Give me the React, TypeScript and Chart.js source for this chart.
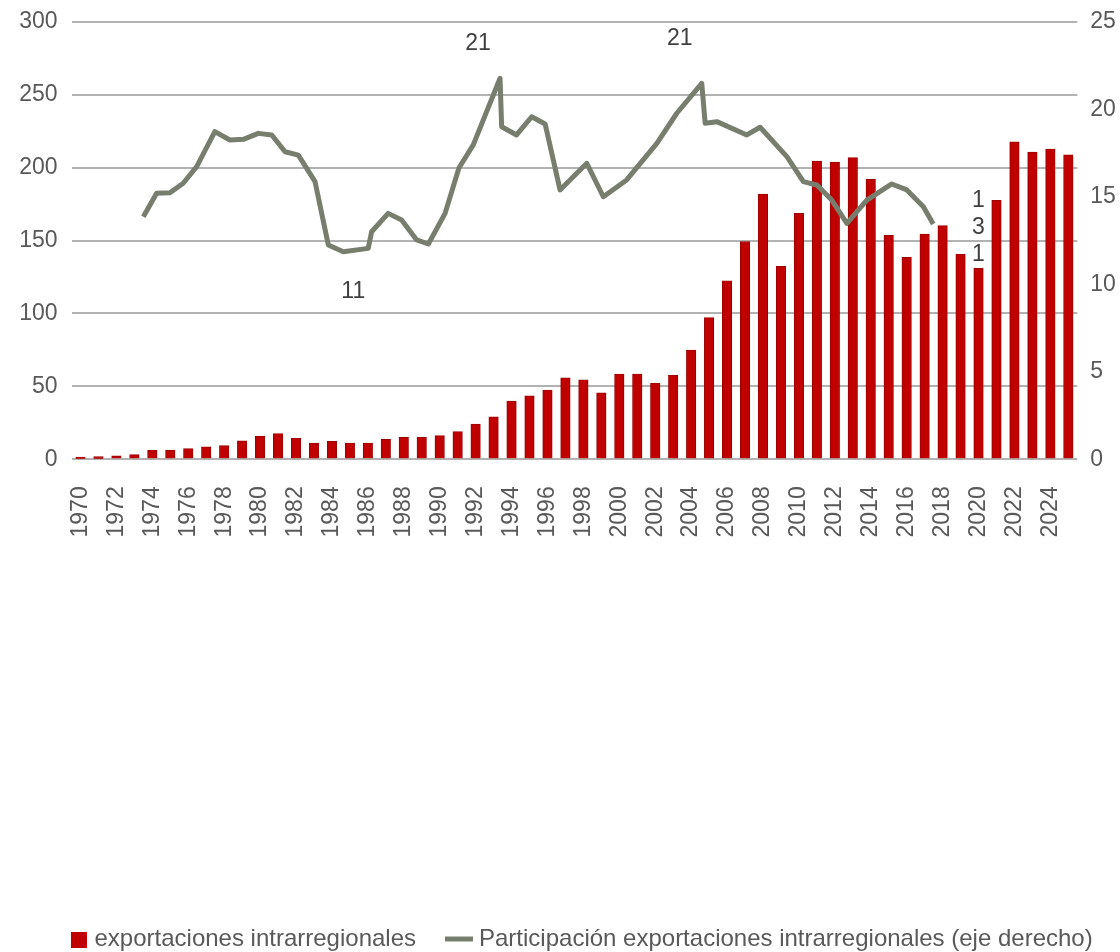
import React, { useEffect, useRef } from 'react';
import { Chart, registerables } from 'chart.js';

Chart.register(...registerables);

// ---------- DATA ----------
const years: string[] = [
  '1970','1971','1972','1973','1974','1975','1976','1977','1978','1979',
  '1980','1981','1982','1983','1984','1985','1986','1987','1988','1989',
  '1990','1991','1992','1993','1994','1995','1996','1997','1998','1999',
  '2000','2001','2002','2003','2004','2005','2006','2007','2008','2009',
  '2010','2011','2012','2013','2014','2015','2016','2017','2018','2019',
  '2020','2021','2022','2023','2024','2025',
];

const exportValues: number[] = [
  1.6, 1.8, 2.3, 3.2, 6.2, 6.2, 7.3, 8.5, 9.4, 12.6,
  16.0, 17.6, 14.4, 11.2, 12.3, 11.2, 11.2, 13.7, 15.1, 15.1,
  16.2, 19.0, 24.1, 29.1, 39.9, 43.5, 47.5, 55.8, 54.5, 45.6,
  58.5, 58.5, 52.0, 57.6, 74.8, 97.1, 122.4, 149.3, 181.9, 132.3,
  168.6, 204.5, 203.7, 206.8, 191.9, 153.5, 138.5, 154.4, 160.2, 140.5,
  130.9, 177.5, 217.7, 210.7, 212.7, 208.8,
];

// participation line (right axis), x positions in fractional years
const shareYears: number[] = [
  1973.50, 1974.24, 1974.98, 1975.72, 1976.47, 1977.48, 1978.32, 1979.07, 1979.90, 1980.65,
  1981.39, 1982.13, 1983.06, 1983.80, 1984.63, 1986.02, 1986.21, 1987.13, 1987.88, 1988.72,
  1989.37, 1990.30, 1991.07, 1991.87, 1993.36, 1993.45, 1994.28, 1995.12, 1995.87, 1996.70,
  1998.19, 1999.11, 2000.41, 2002.09, 2003.20, 2004.59, 2004.78, 2005.43, 2007.10, 2007.84,
  2009.33, 2010.25, 2011.00, 2011.83, 2012.67, 2013.78, 2015.17, 2016.01, 2016.93, 2017.48,
];
const shareValues: number[] = [
  13.86, 15.20, 15.23, 15.77, 16.72, 18.72, 18.24, 18.28, 18.62, 18.53,
  17.57, 17.38, 15.86, 12.24, 11.86, 12.05, 13.00, 14.05, 13.67, 12.53,
  12.30, 14.05, 16.64, 17.96, 21.77, 19.00, 18.53, 19.57, 19.16, 15.39,
  16.91, 15.00, 15.96, 18.05, 19.77, 21.48, 19.20, 19.29, 18.53, 18.97,
  17.29, 15.86, 15.67, 14.81, 13.48, 14.81, 15.73, 15.39, 14.43, 13.44,
];

const leftTicks: number[] = [0, 50, 100, 150, 200, 250, 300];
const rightTicks: number[] = [0, 5, 10, 15, 20, 25];

// annotation texts attached to line points
const lineLabelIndex: number[] = [24, 35, 14];
const lineLabelText: string[] = ['21', '21', '11'];
// bar value label (wrapped digit by digit in the original)
const barLabelYear = '2020';

const barLabel = 'exportaciones intrarregionales';
const lineLabel = 'Participación exportaciones intrarregionales (eje derecho)';

// ---------- STYLE ----------
const FONT = "'Liberation Sans', Arial, sans-serif";
const FS = 23;
const LEGEND_FS = 24;
const BAR_COLOR = '#c00000';
const BAR_BORDER = '#9e0000';
const LINE_COLOR = '#777e6d';
const TICK_COLOR = '#595959';
const ANNOT_COLOR = '#404040';
const GRID_COLOR = '#b2b2b2';
const lineLabelOffsets: [number, number][] = [[-22, -35], [-22, -45], [10, 40]];

const zeroPad = (s: any) => {
  s.paddingTop = 0;
  s.paddingBottom = 0;
  s.paddingLeft = 0;
  s.paddingRight = 0;
};

const annotationPlugin = {
  id: 'annotations',
  afterDatasetsDraw(chart: any) {
    const ctx = chart.ctx;
    ctx.save();
    ctx.font = `${FS}px ${FONT}`;
    ctx.fillStyle = ANNOT_COLOR;
    ctx.textAlign = 'center';
    ctx.textBaseline = 'middle';
    const xs = chart.scales.x2;
    const yr = chart.scales.y1;
    lineLabelIndex.forEach((idx, k) => {
      const px = xs.getPixelForValue(shareYears[idx]);
      const py = yr.getPixelForValue(shareValues[idx]);
      const [dx, dy] = lineLabelOffsets[k];
      ctx.fillText(lineLabelText[k], px + dx, py + dy);
    });
    // bar label
    const bi = years.indexOf(barLabelYear);
    const bx = chart.scales.x.getPixelForValue(bi);
    const by = chart.scales.y.getPixelForValue(exportValues[bi]);
    const chars = String(Math.round(exportValues[bi])).split('');
    chars.forEach((c, k) => {
      const fromBottom = chars.length - 1 - k;
      ctx.fillText(c, bx, by - 14 - fromBottom * 27);
    });
    ctx.restore();
  },
};

const legendPlugin = {
  id: 'customLegend',
  afterDraw(chart: any) {
    const ctx = chart.ctx;
    const base = chart.height - 6;
    ctx.save();
    ctx.font = `${LEGEND_FS}px ${FONT}`;
    ctx.textBaseline = 'alphabetic';
    ctx.textAlign = 'left';
    let x = 71;
    ctx.fillStyle = BAR_COLOR;
    ctx.fillRect(x, base - 14, 16, 16);
    x += 23.5;
    ctx.fillStyle = TICK_COLOR;
    ctx.fillText(barLabel, x, base);
    x += ctx.measureText(barLabel).width + 29;
    ctx.strokeStyle = LINE_COLOR;
    ctx.lineWidth = 5;
    ctx.beginPath();
    ctx.moveTo(x, base - 7);
    ctx.lineTo(x + 28, base - 7);
    ctx.stroke();
    x += 34;
    ctx.fillText(lineLabel, x, base);
    ctx.restore();
  },
};

export default function App() {
  const ref = useRef<HTMLCanvasElement | null>(null);

  useEffect(() => {
    if (!ref.current) return;
    Chart.defaults.font.family = FONT;
    const chart = new Chart(ref.current, {
      type: 'bar',
      data: {
        labels: years,
        datasets: [
          {
            type: 'line',
            label: lineLabel,
            data: shareYears.map((x, i) => ({ x, y: shareValues[i] })),
            xAxisID: 'x2',
            yAxisID: 'y1',
            borderColor: LINE_COLOR,
            borderWidth: 5,
            pointRadius: 0,
            tension: 0,
            borderJoinStyle: 'round',
            borderCapStyle: 'butt',
            fill: false,
            order: 1,
          } as any,
          {
            type: 'bar',
            label: barLabel,
            data: exportValues,
            xAxisID: 'x',
            yAxisID: 'y',
            backgroundColor: BAR_COLOR,
            borderColor: BAR_BORDER,
            borderWidth: 1,
            barThickness: 9.5,
            grouped: false,
            order: 2,
          } as any,
        ],
      },
      options: {
        animation: false,
        responsive: false,
        maintainAspectRatio: false,
        layout: { padding: { top: 21.7, left: 0, right: 0, bottom: 0 } },
        plugins: {
          legend: { display: false },
          tooltip: { enabled: false },
        },
        scales: {
          x: {
            type: 'category',
            offset: true,
            grid: { display: false, drawTicks: false },
            border: { display: false },
            ticks: {
              autoSkip: false,
              maxRotation: 90,
              minRotation: 90,
              padding: 27,
              color: TICK_COLOR,
              font: { size: FS, family: FONT },
              callback: (_v: any, i: number) => (i % 2 === 0 ? years[i] : ''),
            },
            afterFit: (s: any) => {
              s.height = 492.7;
              zeroPad(s);
            },
          },
          x2: {
            type: 'linear',
            display: false,
            offset: false,
            grid: { offset: false },
            min: Number(years[0]) - 0.5,
            max: Number(years[years.length - 1]) + 0.5,
          },
          y: {
            type: 'linear',
            position: 'left',
            min: leftTicks[0],
            max: leftTicks[leftTicks.length - 1],
            afterBuildTicks: (s: any) => {
              s.ticks = leftTicks.map((v) => ({ value: v }));
            },
            grid: { color: GRID_COLOR, lineWidth: 2, drawTicks: false },
            border: { display: false },
            ticks: {
              padding: 14,
              color: TICK_COLOR,
              font: { size: FS, family: FONT },
            },
            afterFit: (s: any) => {
              s.width = 71.5;
              zeroPad(s);
            },
          },
          y1: {
            type: 'linear',
            position: 'right',
            min: rightTicks[0],
            max: rightTicks[rightTicks.length - 1],
            afterBuildTicks: (s: any) => {
              s.ticks = rightTicks.map((v) => ({ value: v }));
            },
            grid: { display: false, drawTicks: false },
            border: { display: false },
            ticks: {
              padding: 13,
              color: TICK_COLOR,
              font: { size: FS, family: FONT },
            },
            afterFit: (s: any) => {
              s.width = 42.7;
              zeroPad(s);
            },
          },
        },
      },
      plugins: [annotationPlugin, legendPlugin],
    } as any);
    return () => chart.destroy();
  }, []);

  return (
    <div style={{ position: 'absolute', left: 0, top: 0, width: 1120, height: 952, background: '#fff' }}>
      <canvas ref={ref} width={1120} height={952} />
    </div>
  );
}
